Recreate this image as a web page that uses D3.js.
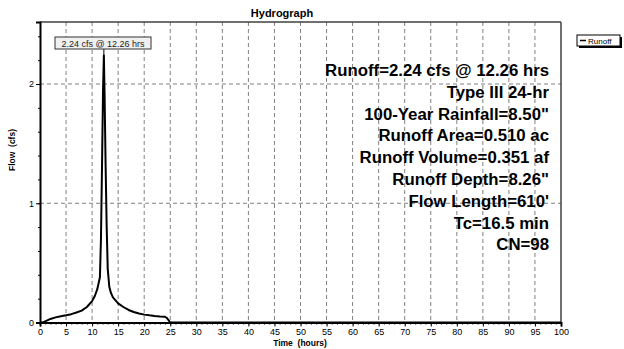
<!DOCTYPE html>
<html><head><meta charset="utf-8">
<script src="https://cdn.jsdelivr.net/npm/d3@7"></script>
<style>body{margin:0;background:#fff}svg{display:block;font-family:"Liberation Sans",Arial,sans-serif}</style>
</head><body><svg id="c" width="624" height="349"></svg>
<script>
const times = [0,0.5,1,2,3,4,5,6,7,8,9,10,10.5,11,11.5,11.7,11.9,12.1,12.26,12.4,12.6,12.8,13.0,13.3,13.6,14,15,16,17,18,19,20,21,22,23,24,24.3,25,100];
const flows = [0,0,0.01,0.03,0.043,0.052,0.06,0.07,0.084,0.1,0.13,0.18,0.22,0.28,0.38,0.7,1.3,1.95,2.24,1.9,1.3,0.8,0.45,0.3,0.25,0.21,0.16,0.13,0.105,0.088,0.076,0.066,0.06,0.055,0.051,0.048,0.04,0,0];
const xMajorTicks = [0,5,10,15,20,25,30,35,40,45,50,55,60,65,70,75,80,85,90,95,100];
const yMajorTicks = [0,1,2];
const infoLines = ["Runoff=2.24 cfs @ 12.26 hrs","Type III 24-hr","100-Year Rainfall=8.50\"","Runoff Area=0.510 ac","Runoff Volume=0.351 af","Runoff Depth=8.26\"","Flow Length=610'","Tc=16.5 min","CN=98"];
const peakLabel = "2.24 cfs @ 12.26 hrs";
const peakT = 12.26, peakQ = 2.24;

const svg = d3.select("#c");
const L=40, R=561, T=22, B=322.5;
const x = d3.scaleLinear().domain([0,100]).range([L,R]);
const y = d3.scaleLinear().domain([0,2.52]).range([B,T]);

// grid
const g = svg.append("g");
g.selectAll("line.vg").data(xMajorTicks.filter(d=>d>0&&d<100)).join("line")
 .attr("x1",d=>x(d)).attr("x2",d=>x(d)).attr("y1",T).attr("y2",B)
 .attr("stroke","#808080").attr("stroke-width",1).attr("stroke-dasharray","4,3");
g.selectAll("line.hg").data(yMajorTicks.filter(d=>d>0)).join("line")
 .attr("x1",L).attr("x2",R).attr("y1",d=>y(d)).attr("y2",d=>y(d))
 .attr("stroke","#808080").attr("stroke-width",1).attr("stroke-dasharray","4,3");

// frame top/right
svg.append("line").attr("x1",L).attr("x2",R).attr("y1",T).attr("y2",T).attr("stroke","#404040").attr("stroke-width",1.5);
svg.append("line").attr("x1",R).attr("x2",R).attr("y1",T).attr("y2",B).attr("stroke","#404040").attr("stroke-width",1.5);

// axes
const xAxis = d3.axisBottom(x).tickValues(xMajorTicks).tickSize(4).tickPadding(2).tickFormat(d3.format("d"));
const xa = svg.append("g").attr("transform",`translate(0,${B})`).call(xAxis);
xa.select(".domain").attr("stroke","#000").attr("stroke-width",2);
xa.selectAll("text").attr("font-size",9).attr("fill","#000").attr("font-family","Liberation Sans, Arial, sans-serif");
const xMinor = d3.axisBottom(x).tickValues(d3.range(0,101,1)).tickSize(2).tickFormat("");
const xm = svg.append("g").attr("transform",`translate(0,${B})`).call(xMinor);
xm.select(".domain").remove();
xm.selectAll("line").attr("stroke","#000");

const yAxis = d3.axisLeft(y).tickValues(yMajorTicks).tickSize(4).tickPadding(2).tickFormat(d3.format("d"));
const ya = svg.append("g").attr("transform",`translate(${L},0)`).call(yAxis);
ya.select(".domain").attr("stroke","#000").attr("stroke-width",2);
ya.selectAll("text").attr("font-size",9).attr("fill","#000").attr("font-family","Liberation Sans, Arial, sans-serif");
const yMinor = d3.axisLeft(y).tickValues(d3.range(0,2.5,0.2)).tickSize(2).tickFormat("");
const ym = svg.append("g").attr("transform",`translate(${L},0)`).call(yMinor);
ym.select(".domain").remove();
ym.selectAll("line").attr("stroke","#000");

// curve
const data = times.map((t,i)=>({t, q: flows[i]}));
svg.append("path").datum(data)
 .attr("d", d3.line().x(d=>x(d.t)).y(d=>y(d.q)))
 .attr("fill","none").attr("stroke","#000").attr("stroke-width",2).attr("stroke-linejoin","round");

// peak label
const px = x(peakT);
svg.append("line").attr("x1",px).attr("x2",px).attr("y1",49).attr("y2",y(peakQ)).attr("stroke","#000").attr("stroke-width",1);
svg.append("rect").attr("x",55).attr("y",37).attr("width",96).attr("height",12).attr("fill","#f0f0f0").attr("stroke","#333").attr("stroke-width",1);
svg.append("text").attr("x",103).attr("y",46.5).attr("text-anchor","middle").attr("font-size",9).attr("fill","#222").text(peakLabel);

// info text
svg.append("g").selectAll("text").data(infoLines).join("text")
 .attr("x",549).attr("y",(d,i)=>76+i*21.8).attr("text-anchor","end")
 .attr("font-size",16.8).attr("font-weight","bold").attr("fill","#000").text(d=>d);

// title & labels
svg.append("text").attr("x",282).attr("y",16.5).attr("text-anchor","middle").attr("font-size",11).attr("font-weight","bold").text("Hydrograph");
svg.append("text").attr("x",300).attr("y",346).attr("text-anchor","middle").attr("font-size",8.5).attr("font-weight","bold").style("white-space","pre").text("Time  (hours)");
svg.append("text").attr("transform","translate(15,150) rotate(-90)").attr("text-anchor","middle").attr("font-size",8.5).attr("font-weight","bold").style("white-space","pre").text("Flow  (cfs)");

// legend
svg.append("rect").attr("x",579).attr("y",37).attr("width",43).attr("height",11).attr("fill","#000");
svg.append("rect").attr("x",577).attr("y",35).attr("width",43).attr("height",11).attr("fill","#fff").attr("stroke","#000").attr("stroke-width",1);
svg.append("line").attr("x1",580).attr("x2",586).attr("y1",40.5).attr("y2",40.5).attr("stroke","#000").attr("stroke-width",1.5);
svg.append("text").attr("x",588).attr("y",43.5).attr("font-size",8).text("Runoff");
</script></body></html>
